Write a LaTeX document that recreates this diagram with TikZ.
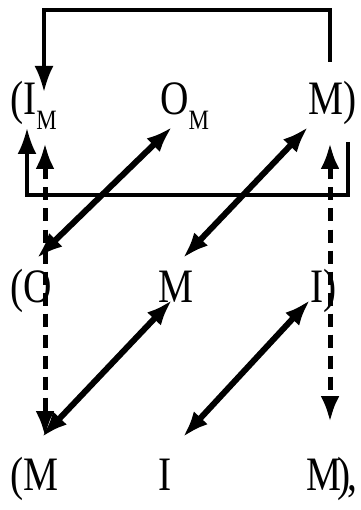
\documentclass[tikz,border=0pt]{standalone}
\usepackage{fontspec}
\setmainfont[FakeStretch=0.82]{Liberation Serif}
\usetikzlibrary{arrows.meta}
\newcommand\subM{\raisebox{-15pt}{\fontsize{28}{30}\selectfont M}}
\begin{document}
\begin{tikzpicture}[x=1pt,y=-1pt,
  lbl/.style={anchor=base west, inner sep=0pt, font=\fontsize{48}{50}\selectfont},
  tip/.tip={Latex[length=26pt,width=19pt]},
  solidline/.style={line width=3.5pt, -tip},
  dbl/.style={line width=6pt, tip-tip},
  dsh/.style={line width=5pt, dash pattern=on 13pt off 8pt, tip-tip}]
\useasboundingbox (0,0) rectangle (360,510);
% labels
\node[lbl] (r1a) at (10,115) {(I\subM};
\node[lbl] (r1b) at (160,115) {O\subM};
\node[lbl] (r1c) at (308,115) {M)};
\node[lbl] (r2a) at (10,302) {(O};
\node[lbl] (r2b) at (158,302) {M};
\node[lbl] (r2c) at (310,302) {I)};
\node[lbl] (r3a) at (10,490) {(M};
\node[lbl] (r3b) at (158,490) {I};
\node[lbl] (r3c) at (306,490) {M\kern-4pt)\kern-3pt,};
% connector ends
\coordinate (lpA) at (330,62);
\coordinate (lpTop) at (187,10);
\coordinate (lpB) at (44,92);
\coordinate (bA) at (348,142);
\coordinate (bBot) at (187,195);
\coordinate (bB) at (27,128);
\coordinate (d1a) at (172,127);
\coordinate (d1b) at (37,258);
\coordinate (d2a) at (308,127);
\coordinate (d2b) at (183,258);
\coordinate (d3a) at (172,300);
\coordinate (d3b) at (42,437);
\coordinate (d4a) at (310,300);
\coordinate (d4b) at (183,437);
\coordinate (vLa) at (45,143);
\coordinate (vLb) at (45,437);
\coordinate (vRa) at (330,143);
\coordinate (vRb) at (330,422);
% connectors
\draw[solidline] (lpA) |- (lpTop) -| (lpB);
\draw[solidline] (bA) |- (bBot) -| (bB);
\draw[dsh] (vLa) -- (vLb);
\draw[dsh] (vRa) -- (vRb);
\draw[dbl] (d1a) -- (d1b);
\draw[dbl] (d2a) -- (d2b);
\draw[dbl] (d3a) -- (d3b);
\draw[dbl] (d4a) -- (d4b);
\end{tikzpicture}
\end{document}
